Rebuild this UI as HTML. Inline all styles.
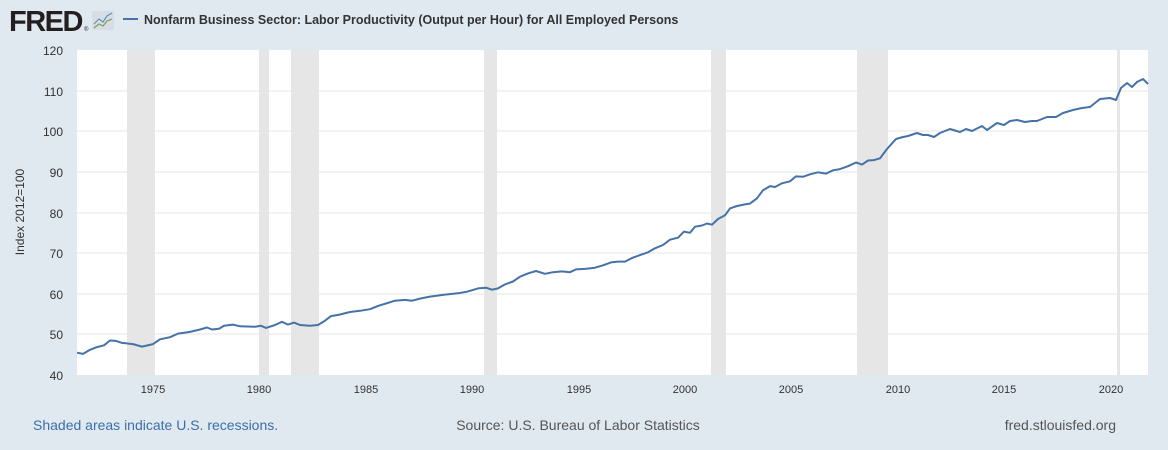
<!DOCTYPE html>
<html><head><meta charset="utf-8"><style>
body{margin:0;width:1168px;height:450px;background:#e1e9f0;font-family:"Liberation Sans",sans-serif;overflow:hidden}
</style></head><body>
<svg width="1168" height="450" xmlns="http://www.w3.org/2000/svg" style="position:absolute;left:0;top:0">
<text x="9" y="31" font-size="29" font-weight="bold" fill="#231f20" letter-spacing="-1.5" font-family="Liberation Sans">FRED</text>
<text x="84" y="31" font-size="6" fill="#231f20">®</text>
<rect x="92" y="11" width="22" height="19" rx="2" fill="#d6dde4"/>
<polyline points="94,24 99,19 103,22 107,16 112,13" fill="none" stroke="#6a8fb8" stroke-width="1.2"/>
<polyline points="94,28 99,24 103,26 107,21 112,19" fill="none" stroke="#7aa05a" stroke-width="1.2"/>
<line x1="123" y1="19" x2="138" y2="19" stroke="#4572a7" stroke-width="2"/>
<text x="144" y="24" font-size="12.5" font-weight="bold" fill="#333">Nonfarm Business Sector: Labor Productivity (Output per Hour) for All Employed Persons</text>
<rect x="77" y="50" width="1071" height="325" fill="#fff"/>
<g fill="#e6e6e6">
<rect x="127" y="50" width="28" height="325"/><rect x="259" y="50" width="10" height="325"/><rect x="291" y="50" width="28" height="325"/>
<rect x="484" y="50" width="13" height="325"/><rect x="711" y="50" width="15" height="325"/><rect x="857" y="50" width="31" height="325"/><rect x="1117" y="50" width="3" height="325"/>
</g>
<g stroke="#e6e6e6" stroke-width="1">
<line x1="77" x2="1148" y1="91" y2="91"/><line x1="77" x2="1148" y1="131" y2="131"/><line x1="77" x2="1148" y1="172" y2="172"/><line x1="77" x2="1148" y1="213" y2="213"/><line x1="77" x2="1148" y1="253" y2="253"/><line x1="77" x2="1148" y1="294" y2="294"/><line x1="77" x2="1148" y1="334" y2="334"/>
</g>
<g font-size="12" fill="#333" text-anchor="end">
<text x="63" y="55">120</text><text x="63" y="96">110</text><text x="63" y="136">100</text><text x="63" y="177">90</text><text x="63" y="218">80</text><text x="63" y="258">70</text><text x="63" y="299">60</text><text x="63" y="339">50</text><text x="63" y="380">40</text>
</g>
<g font-size="11" fill="#333" text-anchor="middle">
<text x="153" y="393">1975</text><text x="259" y="393">1980</text><text x="366" y="393">1985</text><text x="472" y="393">1990</text><text x="579" y="393">1995</text><text x="685" y="393">2000</text><text x="791" y="393">2005</text><text x="898" y="393">2010</text><text x="1004" y="393">2015</text><text x="1111" y="393">2020</text>
</g>
<text transform="translate(24,212) rotate(-90)" font-size="12" fill="#333" text-anchor="middle">Index 2012=100</text>
<polyline fill="none" stroke="#4572a7" stroke-width="2" stroke-linejoin="round" points="77,352.7 83,353.9 90,349.8 96,347.4 104,345.3 110,340.5 116,340.9 122,342.9 133,344.1 142,346.6 153,344.1 160,339.3 170,337.2 178,333.6 190,331.9 200,329.5 207,327.5 212,329.5 219,328.7 224,325.8 233,324.6 240,326.3 255,326.7 261,325.8 266,327.9 275,325 282,321.8 288,324.6 294,322.6 300,325 310,325.8 318,325 324,321.4 331,316.1 340,314.5 350,312 360,310.8 370,309.2 378,305.9 386,303.5 395,300.7 405,299.9 412,300.7 420,298.6 430,296.6 445,294.6 458,293.3 467,291.7 478,288.4 486,287.7 492,289.7 498,288.4 505,284.4 513,281.5 520,276.7 528,273.4 536,271 545,273.8 553,272.2 562,271.4 570,272.2 576,269.4 585,268.9 595,267.7 603,265.3 611,262.4 618,261.6 625,261.6 632,258 640,255.1 648,252.3 655,248.3 663,245 670,239.7 678,237.7 684,231.6 690,232.8 695,226.7 702,225.5 707,223.5 712,224.7 718,219 725,215.3 730,208.4 737,206 745,204.4 750,203.6 757,198.3 763,190.2 770,186.1 775,187 782,183.3 790,181.3 796,176.4 803,176.8 810,174.3 818,172.3 826,173.6 833,170.3 840,169.1 848,166.2 856,162.5 862,164.6 868,160.5 874,160.1 880,158.3 887,149 896,139 903,137 908,136 917,133 923,135 928,135 934,137 940,133 950,129 960,132 966,129 972,131 982,126 987,130 997,123 1004,125 1010,121 1017,120 1025,122 1032,121 1037,121 1047,117 1056,117 1063,113 1073,110 1082,108 1090,107 1100,99 1110,98 1116,100 1121,88 1127,83 1132,87 1137,82 1143,79 1148,84"/>
<text x="33" y="430" font-size="14" fill="#3c6fa9">Shaded areas indicate U.S. recessions.</text>
<text x="578" y="430" font-size="14" fill="#555" text-anchor="middle">Source: U.S. Bureau of Labor Statistics</text>
<text x="1116" y="430" font-size="14" fill="#555" text-anchor="end">fred.stlouisfed.org</text>
</svg>
</body></html>
